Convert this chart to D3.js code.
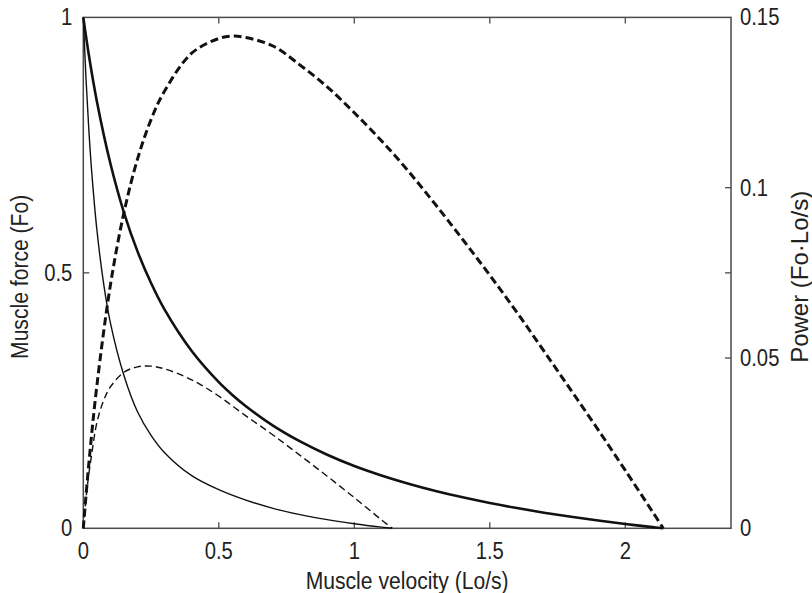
<!DOCTYPE html>
<html><head><meta charset="utf-8">
<script src="https://cdn.jsdelivr.net/npm/d3@7"></script>
<style>body{margin:0;background:#fff}svg{display:block}</style>
</head><body>
<svg id="c" width="812" height="593"></svg>
<script>
// Muscle velocity (Lo/s)
const velThick = [0,0.02,0.05,0.1,0.15,0.2,0.25,0.3,0.4,0.5,0.55,0.6,0.7,0.8,0.9,1.0,1.1,1.2,1.3,1.4,1.5,1.6,1.7,1.8,1.9,2.0,2.1,2.14];
const forceThick = [1,0.928,0.836,0.714,0.618,0.542,0.48,0.428,0.347,0.286,0.261,0.239,0.201,0.17,0.144,0.122,0.1035,0.0873,0.0731,0.0606,0.0495,0.0396,0.0306,0.0225,0.0152,0.0085,0.0023,0];
const powerThick = [0,0.0186,0.0418,0.0714,0.0927,0.1084,0.12,0.1284,0.1395,0.1438,0.1445,0.1441,0.1416,0.136,0.1296,0.122,0.1138,0.1048,0.095,0.0848,0.0743,0.0634,0.052,0.0405,0.0289,0.017,0.0049,0];
const velThin = [0,0.01,0.02,0.03,0.05,0.075,0.1,0.15,0.2,0.25,0.3,0.4,0.5,0.6,0.7,0.8,0.9,1.0,1.1,1.14];
const forceThin = [1,0.88,0.784,0.705,0.585,0.479,0.402,0.299,0.228,0.182,0.148,0.103,0.0755,0.055,0.0391,0.0268,0.017,0.009,0.0023,0];
const powerThin = [0,0.0088,0.0157,0.0212,0.031,0.0375,0.0415,0.0458,0.0474,0.0476,0.0468,0.0436,0.0388,0.033,0.0274,0.0214,0.0153,0.009,0.0025,0];
const xTicks = [0.5,1,1.5,2];
const xTickLabels = ["0","0.5","1","1.5","2"];
const yLeftTicks = [0,0.5,1];
const yRightTicks = [0.05,0.075,0.1];
const yRightLabels = ["0","0.05","0.1","0.15"];

const svg = d3.select("#c");
const L=83.3, R=731, T=17.4, B=528.3;
const x = d3.scaleLinear().domain([0,2.39]).range([L,R]);
const yL = d3.scaleLinear().domain([0,1]).range([B,T]);
const yR = d3.scaleLinear().domain([0,0.15]).range([B,T]);
const font = "'Liberation Sans',Arial,sans-serif";
const axisCol = "#4a4a4a";
const txtCol = "#222";

// frame
svg.append("rect").attr("x",L).attr("y",T).attr("width",R-L).attr("height",B-T)
  .attr("fill","none").attr("stroke",axisCol).attr("stroke-width",1.5);

// inward ticks
const tl=6;
xTicks.forEach(v=>{
  svg.append("line").attr("x1",x(v)).attr("x2",x(v)).attr("y1",B).attr("y2",B-tl).attr("stroke",axisCol).attr("stroke-width",1.3);
  svg.append("line").attr("x1",x(v)).attr("x2",x(v)).attr("y1",T).attr("y2",T+tl).attr("stroke",axisCol).attr("stroke-width",1.3);
});
[0.5].forEach(v=>{
  svg.append("line").attr("x1",L).attr("x2",L+tl).attr("y1",yL(v)).attr("y2",yL(v)).attr("stroke",axisCol).attr("stroke-width",1.3);
});
yRightTicks.forEach(v=>{
  svg.append("line").attr("x1",R).attr("x2",R-tl).attr("y1",yR(v)).attr("y2",yR(v)).attr("stroke",axisCol).attr("stroke-width",1.3);
});

// condensed text helper
function txt(px, py, s, size, anchor, rot, sx){
  sx = sx || 0.88;
  return svg.append("text")
    .attr("transform", `translate(${px},${py})` + (rot?` rotate(${rot})`:"") + ` scale(${sx},1)`)
    .attr("text-anchor", anchor).attr("font-family", font).attr("font-size", size)
    .attr("fill", txtCol).text(s);
}
const fs=23;
[0,0.5,1,1.5,2].forEach((v,i)=> txt(x(v), B+31, xTickLabels[i], fs, "middle"));
yLeftTicks.forEach(v=> txt(L-11, yL(v)+8, String(v), fs, "end"));
[0,0.05,0.1,0.15].forEach((v,i)=> txt(R+9, yR(v)+8, yRightLabels[i], fs, "start"));

// axis titles
txt((L+R)/2, 589, "Muscle velocity (Lo/s)", 24, "middle");
txt(28, (T+B)/2+4, "Muscle force (Fo)", 24, "middle", -90);
txt(808, (T+B)/2+4, "Power (Fo\u00b7Lo/s)", 24, "middle", -90, 1.0);

// curves
const mk = (xs, ys, yScale) => d3.line().x((d,i)=>x(xs[i])).y(d=>yScale(d)).curve(d3.curveCatmullRom.alpha(0.5))(ys);
const g = svg.append("g").attr("fill","none").attr("stroke","#111").attr("stroke-linejoin","round");
g.append("path").attr("d",mk(velThin,forceThin,yL)).attr("stroke-width",1.4);
g.append("path").attr("d",mk(velThin,powerThin,yR)).attr("stroke-width",1.4).attr("stroke-dasharray","7,4");
g.append("path").attr("d",mk(velThick,forceThick,yL)).attr("stroke-width",2.6);
g.append("path").attr("d",mk(velThick,powerThick,yR)).attr("stroke-width",3).attr("stroke-dasharray","8,4");
</script>
</body></html>
